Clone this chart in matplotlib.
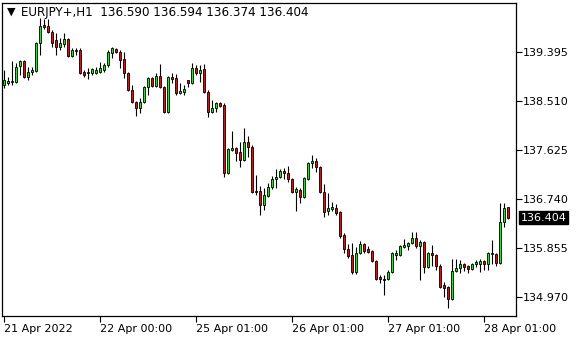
import matplotlib
matplotlib.use("Agg")
import matplotlib.pyplot as plt
from matplotlib.transforms import blended_transform_factory

# EURJPY+ H1 bars, 21 Apr 2022 00:00 .. 28 Apr 2022 07:00
OPEN = [138.799, 138.835, 138.853, 138.853, 139.142, 139.232, 138.943, 139.034, 139.052, 139.557,
        139.882, 139.864, 139.756, 139.612, 139.485, 139.539, 139.630, 139.323, 139.431, 139.431,
        139.034, 139.016, 139.016, 139.016, 139.034, 139.070, 139.160, 139.377, 139.449, 139.395,
        139.268, 139.016, 138.709, 138.492, 138.384, 138.492, 138.763, 138.925, 138.781, 138.961,
        138.763, 138.311, 138.943, 138.925, 138.654, 138.672, 138.889, 138.835, 139.106, 139.016,
        139.088, 138.672, 138.311, 138.384, 138.474, 138.438, 137.209, 137.625, 137.661, 137.589,
        137.444, 137.769, 137.679, 136.884, 136.884, 136.632, 136.794, 136.957, 137.101, 137.137,
        137.246, 137.209, 137.101, 136.866, 136.902, 136.776, 137.101, 137.390, 137.426, 137.318,
        136.866, 136.523, 136.559, 136.577, 136.505, 136.090, 135.837, 135.729, 135.421, 135.765,
        135.927, 135.837, 135.801, 135.620, 135.331, 135.295, 135.295, 135.421, 135.729, 135.729,
        135.873, 135.891, 135.945, 136.036, 135.891, 135.963, 135.512, 135.765, 135.729, 135.530,
        135.187, 135.151, 134.934, 135.439, 135.494, 135.566, 135.530, 135.476, 135.566, 135.566,
        135.620, 135.566, 135.765, 135.747, 135.584, 136.325, 136.590]
HIGH = [139.070, 138.943, 139.232, 139.196, 139.250, 139.250, 139.124, 139.124, 139.575, 140.009,
        139.991, 139.991, 139.792, 139.738, 139.648, 139.738, 139.648, 139.467, 139.467, 139.467,
        139.070, 139.106, 139.106, 139.124, 139.214, 139.196, 139.431, 139.485, 139.467, 139.431,
        139.395, 139.034, 138.799, 138.510, 138.564, 138.781, 138.943, 138.943, 139.016, 139.178,
        138.781, 138.961, 139.016, 138.997, 138.835, 138.799, 138.889, 139.196, 139.160, 139.160,
        139.178, 138.709, 138.528, 138.492, 138.492, 138.474, 137.661, 137.968, 137.679, 137.769,
        138.022, 137.878, 137.715, 137.173, 136.975, 136.939, 137.029, 137.155, 137.282, 137.282,
        137.300, 137.336, 137.119, 136.957, 136.939, 137.137, 137.408, 137.535, 137.480, 137.336,
        137.011, 136.848, 136.686, 136.650, 136.523, 136.126, 135.927, 135.945, 135.873, 135.981,
        135.945, 135.891, 135.819, 135.638, 135.367, 135.367, 135.458, 135.783, 135.819, 135.909,
        136.018, 135.963, 136.144, 136.144, 136.000, 135.981, 135.783, 135.909, 135.747, 135.566,
        135.241, 135.169, 135.656, 135.656, 135.638, 135.584, 135.548, 135.584, 135.638, 135.656,
        135.638, 135.783, 136.000, 135.765, 136.668, 136.668, 136.594]
LOW = [138.745, 138.799, 138.799, 138.835, 138.979, 138.925, 138.889, 138.979, 139.034, 139.341,
       139.810, 139.738, 139.485, 139.341, 139.431, 139.485, 139.305, 139.305, 139.341, 138.997,
       138.943, 138.907, 138.979, 138.997, 139.016, 139.034, 139.124, 139.286, 139.377, 139.106,
       138.925, 138.690, 138.474, 138.239, 138.293, 138.474, 138.618, 138.763, 138.763, 138.745,
       138.293, 138.293, 138.835, 138.618, 138.636, 138.618, 138.763, 138.817, 138.979, 138.853,
       138.654, 138.221, 138.293, 138.311, 138.402, 137.137, 137.191, 137.607, 137.426, 137.318,
       137.426, 137.498, 136.848, 136.812, 136.451, 136.541, 136.776, 136.920, 136.939, 137.119,
       137.101, 137.047, 136.848, 136.523, 136.668, 136.758, 137.083, 137.300, 137.228, 136.848,
       136.415, 136.451, 136.523, 136.451, 136.036, 135.765, 135.674, 135.385, 135.385, 135.747,
       135.765, 135.765, 135.602, 135.277, 135.223, 135.006, 135.277, 135.403, 135.638, 135.711,
       135.855, 135.819, 135.927, 135.855, 135.277, 135.403, 135.494, 135.530, 135.458, 135.132,
       134.970, 134.771, 134.916, 135.421, 135.403, 135.439, 135.403, 135.458, 135.512, 135.421,
       135.458, 135.458, 135.566, 135.530, 135.566, 136.234, 136.374]
CLOSE = [138.889, 138.871, 138.871, 139.124, 139.232, 138.943, 139.034, 139.070, 139.557, 139.864,
         139.846, 139.756, 139.557, 139.485, 139.557, 139.630, 139.323, 139.431, 139.413, 139.016,
         138.979, 139.034, 139.088, 139.070, 139.106, 139.160, 139.395, 139.467, 139.395, 139.250,
         139.016, 138.709, 138.492, 138.384, 138.492, 138.763, 138.925, 138.781, 138.961, 138.763,
         138.311, 138.943, 138.907, 138.654, 138.690, 138.727, 138.835, 139.106, 139.016, 139.070,
         138.672, 138.311, 138.384, 138.474, 138.420, 137.209, 137.643, 137.661, 137.571, 137.444,
         137.769, 137.679, 136.866, 136.866, 136.632, 136.812, 136.957, 137.101, 137.137, 137.246,
         137.209, 137.101, 136.866, 136.920, 136.776, 137.119, 137.390, 137.426, 137.318, 136.866,
         136.505, 136.577, 136.595, 136.487, 136.072, 135.837, 135.711, 135.421, 135.765, 135.927,
         135.801, 135.783, 135.620, 135.295, 135.295, 135.277, 135.421, 135.765, 135.765, 135.891,
         135.909, 135.945, 136.036, 135.891, 135.963, 135.512, 135.765, 135.729, 135.530, 135.151,
         135.132, 134.934, 135.439, 135.494, 135.566, 135.512, 135.476, 135.566, 135.602, 135.620,
         135.566, 135.765, 135.747, 135.584, 136.325, 136.577, 136.404]

PRICE_TICKS = [139.395, 138.510, 137.625, 136.740, 135.855, 134.970]
TIME_TICKS = [0, 24, 48, 72, 96, 120]
TIME_LABELS = ["21 Apr 2022", "22 Apr 00:00", "25 Apr 01:00", "26 Apr 01:00",
               "27 Apr 01:00", "28 Apr 01:00"]
HEADER = "EURJPY+,H1  136.590 136.594 136.374 136.404"

fig = plt.figure(figsize=(5.8, 3.4), dpi=100)
ax = fig.add_axes([2 / 580, 1 - 316 / 340, 514 / 580, 313 / 340])

n = len(OPEN)
xs = list(range(n))
ax.vlines(xs, LOW, HIGH, color="black", linewidth=0.8, zorder=2)
for i in xs:
    o, c = OPEN[i], CLOSE[i]
    col = "#00ff00" if c >= o else "#ff0000"
    ax.bar(i, max(abs(c - o), 0.004), bottom=min(o, c), width=0.48, color=col,
           edgecolor="black", linewidth=0.6, zorder=3)

ax.set_xlim(-0.4, 128.1)
ax.set_ylim(134.627, 140.280)

ax.yaxis.tick_right()
ax.set_yticks(PRICE_TICKS, [f"{v:.3f}" for v in PRICE_TICKS])
ax.set_xticks(TIME_TICKS, TIME_LABELS)
for lab in ax.get_xticklabels():
    lab.set_horizontalalignment("left")
ax.tick_params(axis="y", direction="out", length=4, width=0.8, labelsize=8, pad=1, colors="black")
ax.tick_params(axis="x", direction="out", length=4, width=0.8, labelsize=8, pad=2, colors="black")
for sp in ax.spines.values():
    sp.set_color("black")
    sp.set_linewidth(0.9)

# header
ax.text(0.009, 0.971, "\u25bc", transform=ax.transAxes, fontsize=8, va="center", ha="left")
ax.text(0.036, 0.971, HEADER, transform=ax.transAxes, fontsize=8.6, va="center", ha="left")

# current price tag
trans = blended_transform_factory(ax.transAxes, ax.transData)
ax.text(1.009, CLOSE[-1], f"{CLOSE[-1]:.3f}", transform=trans, fontsize=8, color="white",
        va="center", ha="left",
        bbox=dict(boxstyle="square,pad=0.15", facecolor="black", edgecolor="black"))

fig.savefig("out.png", dpi=100)
